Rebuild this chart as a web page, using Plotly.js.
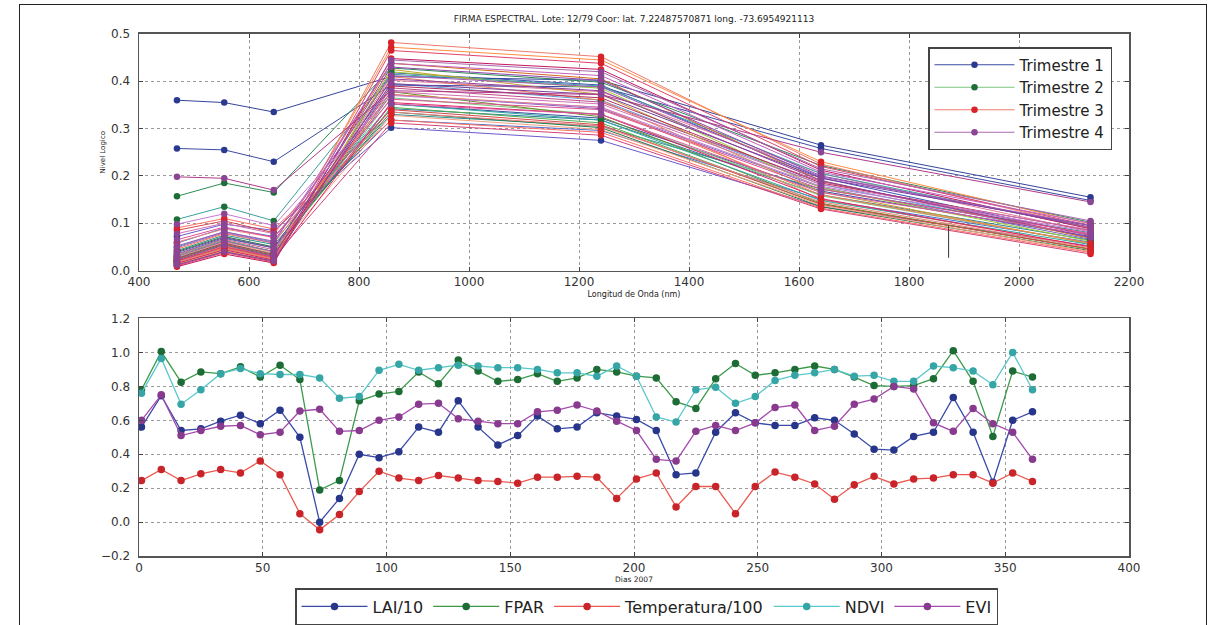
<!DOCTYPE html>
<html>
<head>
<meta charset="utf-8">
<script src="https://cdn.plot.ly/plotly-3.0.1.min.js"></script>
<style>
  html, body { margin: 0; padding: 0; background: #fff; overflow: hidden; }
  #marco { position: absolute; left: 19px; top: 4px; width: 1188px; height: 660px;
           border: 1.5px solid #222; box-sizing: border-box; }
  #grafico { position: absolute; left: 0; top: 0; width: 1227px; height: 625px; }
</style>
</head>
<body>
<div id="marco"></div>
<div id="grafico"></div>
<script>
// MODIS band centres (nm)
const bandas = [469, 555, 645, 858.5, 1240, 1640, 2130];

// Reflectance per 8-day composite, grouped by quarter (one row per composite)
const trimestre1 = [
  [0.030, 0.062, 0.040, 0.352, 0.322, 0.168, 0.072],
  [0.018, 0.048, 0.026, 0.395, 0.360, 0.182, 0.070],
  [0.042, 0.075, 0.055, 0.330, 0.305, 0.172, 0.080],
  [0.025, 0.055, 0.032, 0.372, 0.342, 0.176, 0.066],
  [0.012, 0.040, 0.020, 0.418, 0.392, 0.196, 0.074],
  [0.020, 0.052, 0.028, 0.402, 0.378, 0.205, 0.082],
  [0.035, 0.068, 0.048, 0.342, 0.318, 0.160, 0.064],
  [0.022, 0.050, 0.030, 0.386, 0.356, 0.188, 0.076],
  [0.058, 0.090, 0.072, 0.318, 0.296, 0.150, 0.060],
  [0.360, 0.355, 0.335, 0.410, 0.402, 0.265, 0.155],
  [0.258, 0.255, 0.230, 0.392, 0.388, 0.258, 0.148],
  [0.072, 0.098, 0.085, 0.302, 0.275, 0.135, 0.052]
];
const trimestre2 = [
  [0.028, 0.058, 0.036, 0.365, 0.330, 0.158, 0.058],
  [0.157, 0.185, 0.165, 0.428, 0.398, 0.222, 0.102],
  [0.015, 0.045, 0.022, 0.420, 0.385, 0.175, 0.062],
  [0.108, 0.135, 0.105, 0.415, 0.390, 0.205, 0.090],
  [0.020, 0.050, 0.026, 0.438, 0.405, 0.190, 0.068],
  [0.032, 0.064, 0.040, 0.345, 0.312, 0.140, 0.046],
  [0.012, 0.042, 0.018, 0.425, 0.372, 0.166, 0.056],
  [0.040, 0.072, 0.050, 0.335, 0.302, 0.135, 0.042],
  [0.018, 0.048, 0.025, 0.410, 0.360, 0.150, 0.050],
  [0.024, 0.056, 0.032, 0.378, 0.325, 0.142, 0.045],
  [0.050, 0.082, 0.060, 0.352, 0.318, 0.148, 0.055]
];
const trimestre3 = [
  [0.016, 0.046, 0.024, 0.482, 0.452, 0.225, 0.090],
  [0.022, 0.052, 0.030, 0.472, 0.445, 0.230, 0.098],
  [0.010, 0.038, 0.018, 0.465, 0.438, 0.220, 0.095],
  [0.085, 0.105, 0.080, 0.340, 0.308, 0.140, 0.045],
  [0.030, 0.060, 0.038, 0.328, 0.298, 0.138, 0.040],
  [0.008, 0.035, 0.016, 0.448, 0.425, 0.212, 0.088],
  [0.090, 0.110, 0.088, 0.318, 0.292, 0.132, 0.038],
  [0.015, 0.044, 0.022, 0.355, 0.330, 0.152, 0.050],
  [0.060, 0.088, 0.070, 0.335, 0.305, 0.145, 0.048],
  [0.020, 0.050, 0.028, 0.312, 0.286, 0.130, 0.035],
  [0.045, 0.078, 0.058, 0.372, 0.345, 0.160, 0.058],
  [0.026, 0.058, 0.034, 0.390, 0.365, 0.185, 0.085]
];
const trimestre4 = [
  [0.030, 0.062, 0.040, 0.445, 0.420, 0.215, 0.105],
  [0.048, 0.080, 0.058, 0.438, 0.412, 0.208, 0.100],
  [0.022, 0.054, 0.030, 0.430, 0.402, 0.200, 0.092],
  [0.078, 0.100, 0.078, 0.378, 0.352, 0.182, 0.086],
  [0.038, 0.070, 0.048, 0.395, 0.372, 0.195, 0.095],
  [0.065, 0.092, 0.070, 0.362, 0.340, 0.172, 0.078],
  [0.052, 0.082, 0.062, 0.412, 0.388, 0.198, 0.096],
  [0.198, 0.195, 0.170, 0.380, 0.372, 0.250, 0.145],
  [0.098, 0.120, 0.095, 0.370, 0.345, 0.178, 0.082],
  [0.012, 0.040, 0.020, 0.405, 0.380, 0.190, 0.070],
  [0.034, 0.066, 0.044, 0.352, 0.330, 0.165, 0.075]
];

// stray vertical segment on the spectral panel
const trazoX = [1872, 1872];
const trazoY = [0.096, 0.027];

// 2007 time series (8-day composites)
const dias = [1, 9, 17, 25, 33, 41, 49, 57, 65, 73, 81, 89, 97, 105, 113, 121, 129, 137, 145, 153, 161, 169, 177,
  185, 193, 201, 209, 217, 225, 233, 241, 249, 257, 265, 273, 281, 289, 297, 305, 313, 321, 329, 337, 345, 353, 361];
const lai10 = [0.56, 0.745, 0.54, 0.55, 0.595, 0.63, 0.58, 0.66, 0.50, 0.0, 0.14, 0.40, 0.38, 0.415, 0.56, 0.53, 0.715,
  0.56, 0.455, 0.51, 0.625, 0.55, 0.56, 0.645, 0.625, 0.605, 0.54, 0.28, 0.29, 0.53, 0.645, 0.585, 0.57, 0.57, 0.615,
  0.60, 0.52, 0.43, 0.425, 0.505, 0.53, 0.735, 0.53, 0.235, 0.60, 0.65];
const fpar = [0.78, 1.005, 0.825, 0.885, 0.875, 0.915, 0.855, 0.925, 0.84, 0.19, 0.245, 0.715, 0.755, 0.77, 0.885,
  0.815, 0.955, 0.89, 0.83, 0.84, 0.875, 0.83, 0.85, 0.90, 0.885, 0.86, 0.85, 0.71, 0.67, 0.845, 0.935, 0.865, 0.88,
  0.90, 0.92, 0.90, 0.855, 0.805, 0.80, 0.805, 0.845, 1.01, 0.83, 0.505, 0.89, 0.855];
const temperatura100 = [0.245, 0.31, 0.245, 0.285, 0.31, 0.29, 0.36, 0.28, 0.05, -0.045, 0.045, 0.18, 0.30, 0.26,
  0.245, 0.275, 0.26, 0.245, 0.24, 0.23, 0.265, 0.265, 0.27, 0.265, 0.14, 0.255, 0.29, 0.09, 0.21, 0.21, 0.05, 0.21,
  0.295, 0.265, 0.225, 0.135, 0.22, 0.27, 0.225, 0.255, 0.26, 0.28, 0.28, 0.23, 0.29, 0.24];
const ndvi = [0.76, 0.965, 0.695, 0.78, 0.875, 0.905, 0.875, 0.87, 0.87, 0.85, 0.73, 0.74, 0.895, 0.93, 0.895, 0.91,
  0.925, 0.92, 0.91, 0.91, 0.90, 0.88, 0.88, 0.86, 0.92, 0.86, 0.62, 0.59, 0.78, 0.795, 0.70, 0.74, 0.835, 0.865, 0.88,
  0.90, 0.86, 0.865, 0.83, 0.83, 0.92, 0.91, 0.89, 0.81, 1.0, 0.78];
const evi = [0.60, 0.75, 0.51, 0.54, 0.565, 0.57, 0.515, 0.53, 0.655, 0.665, 0.535, 0.54, 0.60, 0.62, 0.695, 0.70,
  0.61, 0.595, 0.58, 0.58, 0.65, 0.66, 0.69, 0.655, 0.595, 0.54, 0.37, 0.36, 0.535, 0.57, 0.54, 0.585, 0.675, 0.69,
  0.54, 0.565, 0.695, 0.725, 0.80, 0.785, 0.585, 0.535, 0.67, 0.58, 0.53, 0.37];

// ---- styling ----
const FUENTE = 'DejaVu Sans, Liberation Sans, sans-serif';
const trimestres = [
  { nombre: 'Trimestre 1', filas: trimestre1, marcador: '#2b3a90',
    lineas: ['#3b4ba0', '#5a9bd5', '#2f8f8f', '#8062c0', '#3f51b5', '#e07b9a', '#2e7d9a', '#c04a8a', '#4a6fd0', '#34449a', '#3b4ba0', '#6a5acd'] },
  { nombre: 'Trimestre 2', filas: trimestre2, marcador: '#1e6e38',
    lineas: ['#7cc47c', '#2e8b57', '#9acd32', '#3aa0a0', '#d2691e', '#4caf50', '#c8a030', '#1e7d4a', '#e88060', '#6b8e23', '#2fa8a0'] },
  { nombre: 'Trimestre 3', filas: trimestre3, marcador: '#d8232a',
    lineas: ['#ee7b6e', '#ff8c42', '#e0446a', '#d24b4b', '#f4a080', '#c2185b', '#ff6f61', '#e91e63', '#f08080', '#d4447a', '#f57f50', '#b03060'] },
  { nombre: 'Trimestre 4', filas: trimestre4, marcador: '#8c4594',
    lineas: ['#a868b0', '#c060c0', '#8e44ad', '#d070b0', '#7b3f9a', '#e05090', '#a05ab8', '#b03a8a', '#c47ad0', '#9040a0', '#d65aa0'] }
];

const trazas = [];
trimestres.forEach(function (t, k) {
  t.filas.forEach(function (fila, i) {
    trazas.push({
      x: bandas, y: fila, xaxis: 'x', yaxis: 'y',
      type: 'scatter', mode: 'lines+markers',
      name: t.nombre, legendgroup: 'g' + k, showlegend: i === 0, legend: 'legend',
      line: { color: t.lineas[i % t.lineas.length], width: 1 },
      marker: { color: t.marcador, size: 6.5 },
      hoverinfo: 'skip'
    });
  });
});
trazas.push({
  x: trazoX, y: trazoY, xaxis: 'x', yaxis: 'y', type: 'scatter', mode: 'lines',
  line: { color: '#333', width: 1 }, showlegend: false, hoverinfo: 'skip'
});

const series = [
  { nombre: 'LAI/10', y: lai10, linea: '#3a4aa8', marcador: '#27358a' },
  { nombre: 'FPAR', y: fpar, linea: '#3d9a4a', marcador: '#1d6b35' },
  { nombre: 'Temperatura/100', y: temperatura100, linea: '#ea5a50', marcador: '#c8242a' },
  { nombre: 'NDVI', y: ndvi, linea: '#5cc8cc', marcador: '#35a5a5' },
  { nombre: 'EVI', y: evi, linea: '#a54aad', marcador: '#883a8e' }
];
series.forEach(function (s) {
  trazas.push({
    x: dias, y: s.y, xaxis: 'x2', yaxis: 'y2', type: 'scatter', mode: 'lines+markers',
    name: s.nombre, legend: 'legend2',
    line: { color: s.linea, width: 1.3 },
    marker: { color: s.marcador, size: 7.5 },
    hoverinfo: 'skip'
  });
});

function ejeBase(extra) {
  return Object.assign({
    showline: true, linecolor: '#555', linewidth: 1.5, mirror: 'allticks',
    ticks: 'inside', ticklen: 4, tickwidth: 1, tickcolor: '#444',
    showgrid: true, gridcolor: '#9a9a9a', griddash: 'dot', gridwidth: 1,
    zeroline: false, automargin: false, fixedrange: true,
    tickfont: { family: FUENTE, size: 12, color: '#333' }
  }, extra);
}

const xDom = [139 / 1227, 1129 / 1227];
const layout = {
  width: 1227, height: 625,
  margin: { l: 0, r: 0, t: 0, b: 0 },
  paper_bgcolor: 'rgba(0,0,0,0)', plot_bgcolor: '#fff',
  font: { family: FUENTE, color: '#222' },
  showlegend: true,
  title: {
    text: 'FIRMA ESPECTRAL. Lote: 12/79 Coor: lat. 7.22487570871 long. -73.6954921113',
    font: { family: FUENTE, size: 9, color: '#222' },
    x: 634 / 1227, xanchor: 'center', xref: 'paper',
    y: 1 - 19 / 625, yanchor: 'middle', yref: 'paper'
  },
  xaxis: ejeBase({
    domain: xDom, anchor: 'y', range: [400, 2200], tick0: 400, dtick: 200,
    title: { text: 'Longitud de Onda (nm)', font: { family: FUENTE, size: 8, color: '#222' }, standoff: 3 }
  }),
  yaxis: ejeBase({
    domain: [1 - 271 / 625, 1 - 34 / 625], anchor: 'x', range: [0, 0.5], tick0: 0, dtick: 0.1,
    tickformat: '.1f', ticklabelstandoff: 5,
    title: { text: 'Nivel Logico', font: { family: FUENTE, size: 7, color: '#222' }, standoff: 4 }
  }),
  xaxis2: ejeBase({
    domain: xDom, anchor: 'y2', range: [0, 400], tick0: 0, dtick: 50,
    title: { text: 'Dias 2007', font: { family: FUENTE, size: 7.5, color: '#222' }, standoff: 2 }
  }),
  yaxis2: ejeBase({
    domain: [1 - 557 / 625, 1 - 319 / 625], anchor: 'x2', range: [-0.2, 1.2], tick0: -0.2, dtick: 0.2,
    tickformat: '.1f', ticklabelstandoff: 5
  }),
  legend: {
    x: 1112 / 1227, xanchor: 'right', y: 1 - 47 / 625, yanchor: 'top',
    bgcolor: '#fff', bordercolor: '#444', borderwidth: 1.5,
    font: { family: FUENTE, size: 15, color: '#222' }, itemwidth: 80, tracegroupgap: 0
  },
  legend2: {
    orientation: 'h', x: 295 / 1227, xanchor: 'left', y: 1 - 589 / 625, yanchor: 'top',
    bgcolor: '#fff', bordercolor: '#444', borderwidth: 1.5,
    font: { family: FUENTE, size: 16, color: '#222' }, itemwidth: 66
  }
};

Plotly.newPlot('grafico', trazas, layout, { staticPlot: true, displayModeBar: false });
</script>
</body>
</html>
